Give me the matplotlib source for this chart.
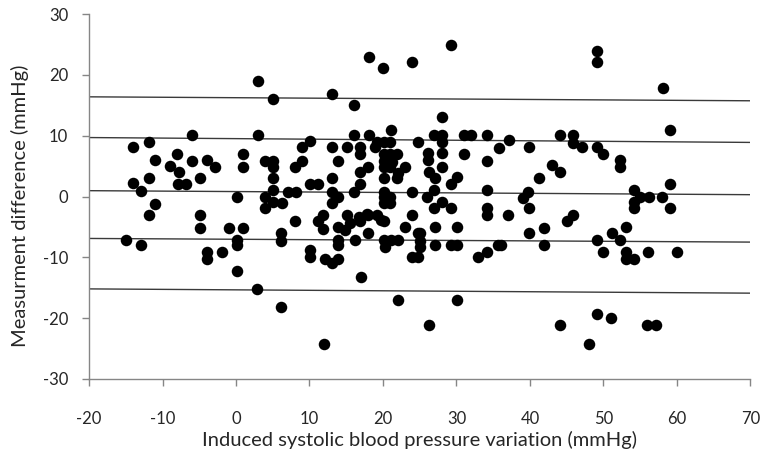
import matplotlib
matplotlib.use("Agg")
import matplotlib.pyplot as plt
import numpy as np

# induced systolic BP variation (mmHg) vs measurement difference (mmHg)
bp_var = [
    -15.0, -14.0, -14.0, -12.9, -12.9, -11.9, -11.9, -11.9, -11.0, -11.0,
    -9.0, -8.0, -7.8, -7.9, -6.8, -6.0, -6.0, -4.9, -4.0, -2.8,
    -4.9, -4.9, -4.0, -4.0, -1.9, -1.0,
    0.9, 0.9, 0.1, 1.0, 0.1, 0.1, 0.1, 2.9, 3.0, 3.0,
    5.0, 4.0, 5.1, 5.0, 5.0, 5.0, 4.0, 4.0, 5.1, 6.2,
    7.1, 8.2, 8.05, 9.0, 9.0, 10.1, 6.1, 6.1, 6.1, 8.05,
    10.1, 11.2,
    10.1, 10.1, 11.2, 11.9, 11.9, 12.1, 13.0, 13.9, 13.9, 13.9,
    12.0, 13.1, 16.1, 13.1, 15.1, 16.1, 16.9, 16.9, 13.9, 13.0,
    13.0, 13.9, 13.0, 16.1, 16.9, 16.9, 13.9, 14.9, 15.1, 15.5,
    16.9, 16.2, 17.0, 16.8, 17.8,
    18.1, 20.0, 23.9, 18.1, 21.1, 19.2, 20.1, 21.0, 18.9, 24.8,
    20.1, 21.0, 21.9, 20.1, 21.2, 20.1, 21.0, 23.0, 18.0, 22.1,
    21.9, 20.1, 20.1, 20.1, 21.0, 20.1, 21.0, 23.9, 18.0, 19.2,
    19.8, 20.1, 18.0, 23.9, 23.0, 24.8, 20.1, 21.1, 22.1, 20.3,
    25.1, 25.1, 23.9, 24.8, 22.0,
    29.2, 28.1, 27.0, 28.1, 28.1, 31.0, 32.0, 34.1, 28.1, 28.1,
    26.1, 26.1, 26.2, 27.1, 31.0, 34.1, 35.8, 29.2, 30.1, 26.9,
    26.0, 28.0, 26.9, 29.2, 34.1, 34.1, 34.1, 27.1, 30.1, 25.1,
    27.1, 29.2, 30.1, 33.0, 34.1, 35.7, 30.1, 26.2,
    37.1, 39.9, 44.1, 45.9, 45.9, 47.1, 43.0, 44.1, 41.2, 39.8,
    39.1, 37.0, 39.9, 41.9, 39.9, 41.9, 36.1, 45.0, 45.9, 44.1,
    49.1, 49.1, 58.1, 59.1, 49.1, 50.0, 52.2, 52.2, 54.1, 55.0,
    56.2, 58.0, 59.1, 54.1, 54.1, 59.1, 53.1, 51.2, 52.2, 49.1,
    50.0, 53.1, 53.1, 54.2, 56.1, 60.0, 49.1, 51.1, 56.0, 57.2,
    48.1,
]
meas_diff = [
    -7.2, 8.1, 2.2, 0.9, -8.0, 9.0, 3.0, -3.0, 6.0, -1.2,
    5.0, 7.0, 4.1, 2.0, 2.0, 10.1, 5.9, 3.0, 6.0, 4.9,
    -3.0, -5.1, -9.1, -10.2, -9.1, -5.1,
    7.0, 4.9, -0.1, -5.1, -7.2, -8.0, -12.2, -15.2, 19.0, 10.1,
    16.1, 5.9, 5.9, 4.9, 3.0, 1.1, 0.0, -1.9, -0.9, -1.1,
    0.8, 0.8, 4.9, 5.9, 8.1, 9.1, -6.05, -7.4, -18.1, -4.0,
    2.1, 2.1,
    -8.8, -10.0, -4.0, -3.0, -5.3, -10.2, -11.0, -10.2, -8.0, -7.15,
    -24.25, 16.9, 15.0, 8.1, 8.1, 10.1, 8.1, 7.0, 5.9, 3.0,
    0.8, 0.0, -1.1, 0.8, 2.05, 4.1, -5.0, -5.5, -3.0, -4.4,
    -4.1, -7.15, -13.3, -3.3, -2.8,
    22.9, 21.1, 22.2, 10.1, 11.0, 9.0, 9.0, 9.0, 8.1, 9.0,
    7.0, 7.0, 7.0, 5.9, 5.7, 4.9, 4.9, 4.9, 4.9, 3.8,
    3.0, 3.0, 0.8, -0.1, 0.0, -1.1, -1.1, 0.8, -3.0, -3.0,
    -3.9, -4.1, -6.05, -3.0, -5.0, -6.05, -7.15, -7.15, -7.15, -8.3,
    -7.4, -8.3, -9.9, -9.9, -17.1,
    25.0, 13.0, 10.1, 10.1, 9.0, 10.1, 10.1, 10.1, 7.1, 4.9,
    7.1, 6.0, 4.1, 3.0, 7.0, 5.9, 8.0, 2.0, 3.2, 1.0,
    -0.1, -0.9, -1.9, -1.9, 1.0, -1.9, -3.0, -5.0, -5.0, -6.05,
    -8.0, -8.0, -8.0, -10.0, -9.1, -8.0, -17.1, -21.1,
    9.3, 8.1, 10.1, 10.1, 8.8, 8.1, 5.2, 4.1, 3.0, 0.8,
    -0.3, -3.0, -1.9, -5.1, -6.05, -8.0, -8.0, -4.1, -3.0, -21.1,
    24.0, 22.1, 17.9, 10.9, 8.1, 7.0, 6.0, 4.9, 1.1, 0.0,
    0.0, 0.0, 2.05, -0.85, -1.9, -1.9, -5.0, -6.05, -7.15, -7.15,
    -9.1, -9.1, -10.2, -10.2, -9.1, -9.1, -19.3, -20.0, -21.1, -21.1,
    -24.25,
]

# fitted lines (mean, +-1SD, +-2SD) given by their values at x=-20 and x=70
line_x = [-20, 70]
line_left = [16.4, 9.7, 0.96, -6.9, -15.2]
line_right = [15.75, 8.9, 0.3, -7.5, -15.9]

x_ticks = list(range(-20, 71, 10))
y_ticks = list(range(-30, 31, 10))

plt.rcParams['font.family'] = ['Lato', 'DejaVu Sans']
plt.rcParams['axes.unicode_minus'] = False

fig = plt.figure(figsize=(7.61, 4.57), dpi=100)
ax = fig.add_axes([0.117, 0.171, 0.869, 0.798])

for yl, yr in zip(line_left, line_right):
    ax.plot(line_x, [yl, yr], color='#3a3a3a', lw=1.0, zorder=2)

ax.plot(bp_var, meas_diff, 'o', color='black', markersize=8.3,
        markeredgewidth=0, zorder=3)

ax.set_xlim(-20, 70)
ax.set_ylim(-30, 30)
ax.set_xticks(x_ticks)
ax.set_yticks(y_ticks)

for s in ['top', 'right']:
    ax.spines[s].set_visible(False)
for s in ['left', 'bottom']:
    ax.spines[s].set_color('#868686')
    ax.spines[s].set_linewidth(1.0)

ax.tick_params(axis='both', direction='out', length=5, width=1.0,
               color='#868686', labelsize=12, labelcolor='#262626')
ax.tick_params(axis='y', pad=10)
ax.tick_params(axis='x', pad=18)

ax.set_xlabel('Induced systolic blood pressure variation (mmHg)',
              fontsize=14.5, color='#262626', labelpad=3)
ax.set_ylabel('Measurment difference (mmHg)', fontsize=14.5,
              color='#262626')
ax.yaxis.set_label_coords(-0.091, 0.475)

fig.savefig('out.png', dpi=100)
